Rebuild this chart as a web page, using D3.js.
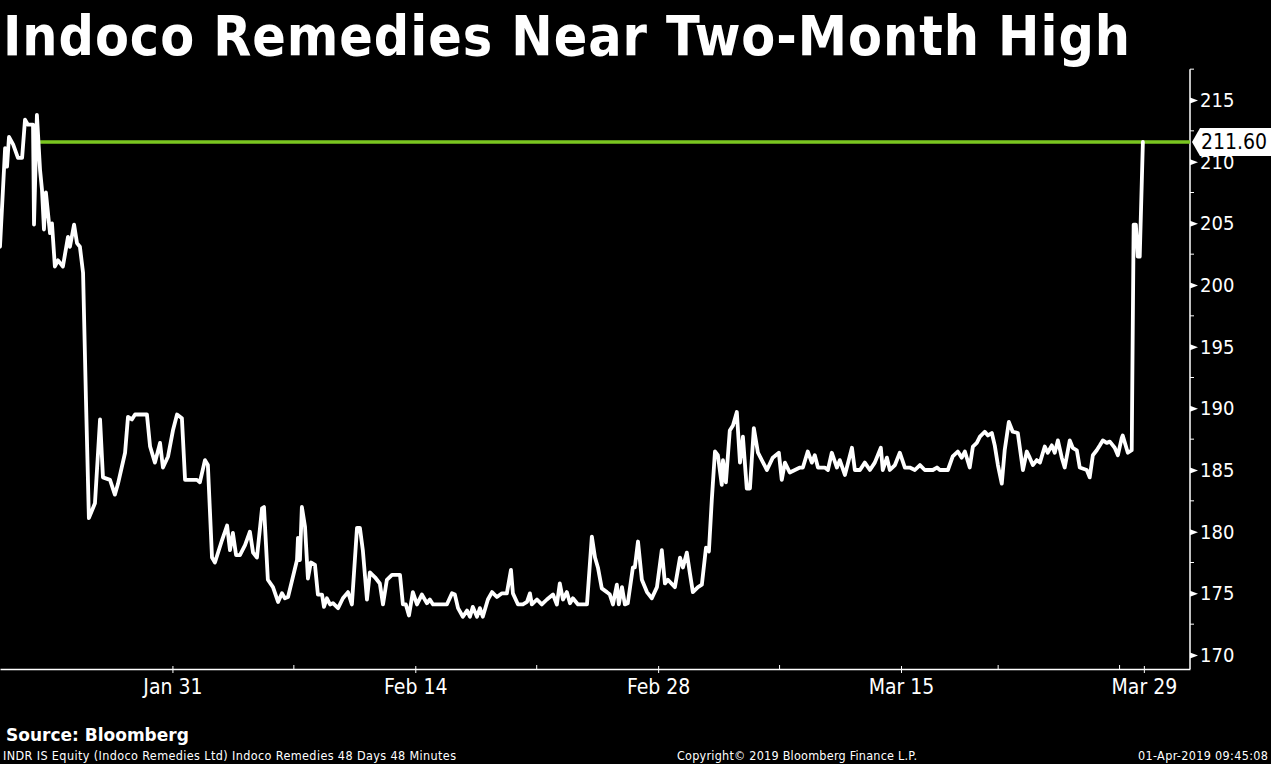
<!DOCTYPE html>
<html>
<head>
<meta charset="utf-8">
<script src="https://cdn.jsdelivr.net/npm/d3@7"></script>
<style>
  body { margin: 0; background: #000; }
  svg { display: block; }
</style>
</head>
<body>
<div id="chart"></div>
<script>
const width = 1271;
const height = 764;

// trading-day offsets (48-minute bars) and prices
const days = [
  -0.10, 0.11, 0.19, 0.27, 0.44, 0.64, 0.81, 0.93, 1.05, 1.26, 1.30, 1.42, 1.55, 1.63, 1.71, 1.79,
  1.96, 2.04, 2.16, 2.29, 2.49, 2.70, 2.78, 2.95, 3.07, 3.19, 3.32, 3.44, 3.56, 3.81, 4.02, 4.14,
  4.43, 4.63, 4.76, 5.05, 5.17, 5.33, 5.46, 5.95, 6.08, 6.28, 6.49, 6.61, 6.82, 7.02, 7.19, 7.39,
  7.52, 7.72, 8.01, 8.13, 8.34, 8.46, 8.63, 8.75, 9.04, 9.25, 9.37, 9.49, 9.62, 9.78, 9.99, 10.19,
  10.32, 10.48, 10.69, 10.77, 10.93, 11.14, 11.35, 11.51, 11.63, 11.76, 12.13, 12.17, 12.25, 12.33,
  12.46, 12.58, 12.70, 12.87, 12.99, 13.16, 13.24, 13.36, 13.49, 13.61, 13.82, 14.02, 14.23, 14.39,
  14.60, 14.72, 14.84, 15.01, 15.13, 15.34, 15.54, 15.67, 15.83, 16.04, 16.37, 16.49, 16.61, 16.74,
  16.90, 17.07, 17.27, 17.48, 17.60, 17.73, 18.30, 18.51, 18.63, 18.76, 18.96, 19.13, 19.25, 19.37,
  19.54, 19.66, 19.78, 19.99, 20.16, 20.36, 20.57, 20.77, 20.94, 21.02, 21.23, 21.43, 21.60, 21.72,
  21.80, 22.01, 22.21, 22.42, 22.67, 22.83, 22.95, 23.08, 23.24, 23.37, 23.49, 23.70, 24.07, 24.27,
  24.40, 24.52, 24.68, 24.89, 25.01, 25.14, 25.30, 25.38, 25.51, 25.63, 25.75, 25.96, 26.04, 26.17,
  26.33, 26.54, 26.74, 26.95, 27.15, 27.28, 27.40, 27.69, 27.90, 28.02, 28.18, 28.31, 28.43, 28.64,
  28.80, 28.97, 29.09, 29.21, 29.34, 29.46, 29.62, 29.67, 29.79, 29.95, 30.08, 30.24, 30.37, 30.49,
  30.65, 30.78, 30.94, 31.11, 31.48, 31.72, 31.97, 32.09, 32.22, 32.42, 32.63, 32.84, 32.96, 33.16,
  33.33, 33.45, 33.58, 33.86, 33.99, 34.15, 34.36, 34.48, 34.69, 34.98, 35.10, 35.31, 35.51, 35.72,
  35.92, 36.17, 36.25, 36.42, 36.54, 36.75, 36.95, 37.16, 37.36, 37.57, 37.78, 37.98, 38.31, 38.48,
  38.60, 38.93, 39.13, 39.34, 39.50, 39.63, 39.83, 39.96, 40.12, 40.25, 40.45, 40.58, 40.74, 40.86,
  40.99, 41.15, 41.27, 41.44, 41.60, 41.81, 42.02, 42.18, 42.30, 42.43, 42.59, 42.72, 42.92, 43.04,
  43.21, 43.33, 43.46, 43.62, 43.74, 43.95, 44.07, 44.24, 44.36, 44.65, 44.77, 44.90, 45.06, 45.19,
  45.31, 45.47, 45.60, 45.80, 45.93, 46.09, 46.13, 46.34, 46.50, 46.58, 46.67, 46.75, 46.83, 46.96
];
const prices = [
  203.1, 211.1, 209.6, 212.0, 211.4, 210.3, 210.3, 213.4, 213.0, 213.0, 204.9, 213.8, 209.3, 207.7, 204.5, 207.5,
  204.2, 205.0, 201.5, 202.0, 201.5, 203.9, 203.1, 204.9, 203.4, 203.1, 201.0, 190.7, 181.1, 182.3, 189.1, 184.4,
  184.2, 183.0, 183.9, 186.4, 189.3, 189.1, 189.5, 189.5, 186.9, 185.6, 187.2, 185.2, 186.1, 188.2, 189.5, 189.2,
  184.2, 184.2, 184.2, 184.0, 185.8, 185.4, 177.9, 177.5, 179.3, 180.5, 178.5, 179.9, 178.1, 178.1, 178.9, 180.0,
  178.3, 177.9, 181.9, 182.0, 176.1, 175.5, 174.3, 175.0, 174.6, 174.7, 177.7, 179.5, 177.7, 182.0,
  180.4, 176.2, 177.5, 177.3, 174.9, 174.9, 173.9, 174.6, 174.1, 174.2, 173.8, 174.6, 175.1, 174.1,
  180.3, 180.3, 178.5, 174.5, 176.7, 176.3, 175.8, 174.1, 176.1, 176.5, 176.5, 174.1, 174.1, 173.2,
  175.1, 174.1, 174.9, 174.2, 174.5, 174.1, 174.1, 175.0, 174.9, 173.8, 173.1, 173.6, 173.1, 173.9,
  173.1, 173.8, 173.1, 174.5, 175.1, 174.7, 175.0, 175.0, 176.9, 175.0, 174.1, 174.1, 174.3, 175.0,
  174.1, 174.5, 174.1, 174.5, 174.9, 174.1, 175.8, 174.5, 175.1, 174.2, 174.6, 174.1, 174.1, 179.6,
  177.9, 177.1, 175.4, 175.1, 174.9, 174.1, 175.7, 174.1, 175.5, 174.1, 174.2, 177.1, 177.1, 179.2,
  176.1, 175.1, 174.6, 175.5, 178.5, 175.8, 176.1, 175.5, 177.9, 177.1, 178.3, 176.6, 175.1, 175.5,
  175.7, 178.7, 178.4, 182.6, 186.5, 186.2, 183.8, 185.8, 184.0, 188.2, 188.6, 189.7, 185.6, 187.7,
  183.5, 183.5, 188.4, 186.4, 185.0, 186.0, 186.4, 184.2, 185.6, 184.8, 185.0, 185.2, 185.2, 186.5,
  185.6, 186.2, 185.2, 185.2, 185.0, 186.4, 185.2, 185.8, 184.6, 186.8, 185.0, 185.0, 185.6, 185.0,
  185.6, 186.8, 185.0, 186.0, 185.0, 185.4, 186.4, 185.2, 185.2, 185.0, 185.4, 185.0, 185.0, 185.2,
  185.0, 185.0, 186.1, 186.5, 186.0, 186.5, 185.2, 186.9, 187.2, 187.7, 188.1, 187.8, 188.0, 187.0,
  185.4, 183.9, 186.6, 188.9, 188.1, 188.0, 185.0, 186.5, 186.0, 185.4, 185.8, 185.6, 186.9, 186.4,
  187.0, 186.4, 187.4, 186.0, 185.2, 187.4, 186.8, 186.6, 185.2, 185.0, 184.4, 186.2, 186.6, 187.0,
  187.4, 187.2, 187.3, 186.8, 186.2, 187.6, 187.8, 186.4, 186.6, 204.9, 204.9, 202.3, 202.3, 211.6
];

const lastPrice = 211.60;
const highFromDay = 1.55;

const yTicks = [170, 175, 180, 185, 190, 195, 200, 205, 210, 215];
const yMinorTicks = [172.5, 177.5, 182.5, 187.5, 192.5, 197.5, 202.5, 207.5, 212.5, 217.5];
const xTickDays = [7, 17, 27, 37, 47];
const xTickLabels = ["Jan 31", "Feb 14", "Feb 28", "Mar 15", "Mar 29"];
const xMinorDays = [12, 22, 32, 41, 46];

const title = "Indoco Remedies Near Two-Month High";
const source = "Source: Bloomberg";
const footLeft = "INDR IS Equity (Indoco Remedies Ltd) Indoco Remedies 48 Days 48 Minutes";
const footMid = "Copyright\u00A9 2019 Bloomberg Finance L.P.";
const footRight = "01-Apr-2019 09:45:08";

const axisFont = '"DejaVu Sans Condensed", "DejaVu Sans", sans-serif';
const plotRight = 1190;
const plotBottom = 669;

let svg = d3.select("#chart")
  .append("svg")
  .attr("width", width)
  .attr("height", height)
  .style("background", "#000");

let x = d3.scaleLinear().domain([-0.1, 48.9]).range([0, plotRight]);
let y = d3.scaleLinear().domain([170, 215]).range([655, 100]);

// title
svg.append("text")
  .attr("x", 3)
  .attr("y", 55)
  .attr("fill", "#fff")
  .attr("font-family", '"DejaVu Sans Condensed", "DejaVu Sans", sans-serif')
  .attr("font-weight", "bold")
  .attr("font-stretch", "condensed")
  .attr("font-size", 55)
  .attr("textLength", 1127)
  .text(title);

// right axis
let yAxis = d3.axisRight(y).tickValues(yTicks).tickSize(0).tickPadding(10);
let yG = svg.append("g")
  .attr("transform", `translate(${plotRight},0)`)
  .call(yAxis);
yG.select(".domain").remove();
yG.selectAll("text")
  .attr("fill", "#fff")
  .attr("font-family", axisFont)
  .attr("font-size", 20);
yG.selectAll(".tick").append("path")
  .attr("d", "M0,-3L8,0L0,3Z")
  .attr("fill", "#fff");

svg.append("line")
  .attr("x1", plotRight).attr("x2", plotRight)
  .attr("y1", y(217.5)).attr("y2", plotBottom)
  .attr("stroke", "#fff").attr("stroke-width", 1.5);

svg.selectAll(".ymin")
  .data(yMinorTicks)
  .enter()
  .append("line")
  .attr("class", "ymin")
  .attr("x1", plotRight).attr("x2", plotRight + 4)
  .attr("y1", d => y(d)).attr("y2", d => y(d))
  .attr("stroke", "#fff").attr("stroke-width", 1);

// bottom axis
let xAxis = d3.axisBottom(x)
  .tickValues(xTickDays)
  .tickFormat((d, i) => xTickLabels[i])
  .tickSizeInner(4)
  .tickSizeOuter(0)
  .tickPadding(6);
let xG = svg.append("g")
  .attr("transform", `translate(0,${plotBottom})`)
  .call(xAxis);
xG.select(".domain").attr("stroke", "#fff").attr("stroke-width", 1.5);
xG.selectAll(".tick line").attr("stroke", "#fff").attr("y1", -3);
xG.selectAll("text")
  .attr("fill", "#fff")
  .attr("font-family", axisFont)
  .attr("font-size", 21);

svg.selectAll(".xmin")
  .data(xMinorDays)
  .enter()
  .append("line")
  .attr("class", "xmin")
  .attr("x1", d => x(d)).attr("x2", d => x(d))
  .attr("y1", plotBottom - 4).attr("y2", plotBottom)
  .attr("stroke", "#fff").attr("stroke-width", 1);

// high line
svg.append("line")
  .attr("x1", x(highFromDay)).attr("x2", plotRight)
  .attr("y1", y(lastPrice)).attr("y2", y(lastPrice))
  .attr("stroke", "#7ac520")
  .attr("stroke-width", 3.5);

// price line
const series = days.map((d, i) => [d, prices[i]]);
svg.append("path")
  .datum(series)
  .attr("fill", "none")
  .attr("stroke", "#fff")
  .attr("stroke-width", 3.8)
  .attr("stroke-linejoin", "round")
  .attr("stroke-linecap", "round")
  .attr("d", d3.line().x(d => x(d[0])).y(d => y(d[1])));

// last price tag
let tagY = y(lastPrice);
svg.append("path")
  .attr("d", `M${plotRight + 2},${tagY}L${plotRight + 10},${tagY - 14}L${width},${tagY - 14}L${width},${tagY + 14}L${plotRight + 10},${tagY + 14}Z`)
  .attr("fill", "#fff");
svg.append("text")
  .attr("x", plotRight + 11)
  .attr("y", tagY + 7)
  .attr("fill", "#000")
  .attr("font-family", axisFont)
  .attr("font-size", 21)
  .text(d3.format(".2f")(lastPrice));

// footer
svg.append("text")
  .attr("x", 6).attr("y", 741)
  .attr("fill", "#fff")
  .attr("font-family", '"DejaVu Sans", sans-serif')
  .attr("font-weight", "bold")
  .attr("font-size", 17)
  .text(source);

const footer = [
  { t: footLeft, x: 3, anchor: "start", len: 453 },
  { t: footMid, x: 677, anchor: "start", len: 240 },
  { t: footRight, x: 1268, anchor: "end", len: 130 }
];
svg.selectAll(".foot")
  .data(footer)
  .enter()
  .append("text")
  .attr("class", "foot")
  .attr("x", d => d.x)
  .attr("y", 760)
  .attr("text-anchor", d => d.anchor)
  .attr("textLength", d => d.len)
  .attr("fill", "#fff")
  .attr("font-family", axisFont)
  .attr("font-size", 12.5)
  .text(d => d.t);
</script>
</body>
</html>
